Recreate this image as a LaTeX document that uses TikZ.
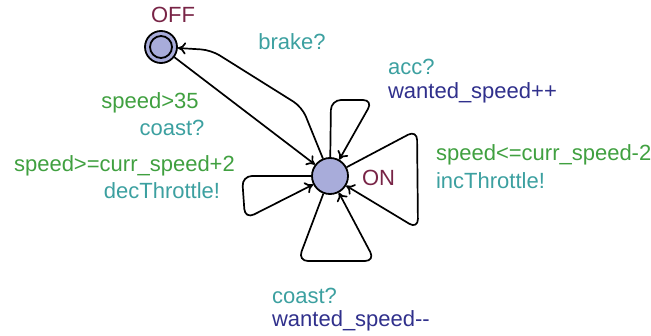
\documentclass[tikz,border=0pt]{standalone}
\usepackage{fontspec}
\setmainfont{Liberation Sans}
\usepackage{tikz}
\usetikzlibrary{shapes,arrows,arrows.meta,positioning}

\definecolor{guardgreen}{RGB}{64,160,64}
\definecolor{syncteal}{RGB}{60,160,160}
\definecolor{assignblue}{RGB}{48,48,140}
\definecolor{locred}{RGB}{120,36,70}
\definecolor{locfill}{RGB}{168,172,218}

\tikzset{
	location/.style={circle,draw=black,line width=0.9pt,fill=locfill,inner sep=0pt,minimum size=18pt},
	locname/.style={text=locred},
	guard/.style={text=guardgreen},
	sync/.style={text=syncteal},
	update/.style={text=assignblue},
	edge/.style={draw=black,line width=0.85pt,rounded corners=5pt},
	>={To[length=4pt,width=6pt]}
}

\begin{document}
\begin{tikzpicture}[x=0.5pt,y=-0.5pt,font=\fontsize{11}{13}\selectfont]
	\useasboundingbox (0,0) rectangle (651,336);

	% locations
	\node[location,minimum size=16pt] (off) at (161,47) {};
	\draw[line width=0.9pt] (off.center) circle[radius=5.5pt];
	\node[locname] (offname) at (173,15) {OFF};
	\node[location] (on) at (330,176) {};
	\node[locname,anchor=west] (onname) at (355,178) {ON};

	% bend points
	\coordinate (brakeA) at (302,107);
	\coordinate (brakeB) at (211,50);
	\coordinate (accA) at (331,100);
	\coordinate (accB) at (373,100);
	\coordinate (incA) at (417,130);
	\coordinate (incB) at (418,229);
	\coordinate (decA) at (242,176);
	\coordinate (decB) at (245,219);
	\coordinate (coastA) at (298,261);
	\coordinate (coastB) at (375,261);

	% edges
	\draw[edge,->] (on) -- (brakeA) -- (brakeB) -- (off);
	\draw[edge,->] (off) -- (on);
	\draw[edge,->] (on) -- (accA) -- (accB) -- (on);
	\draw[edge,->] (on) -- (incA) -- (incB) -- (on);
	\draw[edge,->] (on) -- (decA) -- (decB) -- (on);
	\draw[edge,->] (on) -- (coastA) -- (coastB) -- (on);

	% labels
	\node[sync] (brake) at (292,42) {brake?};
	\node[sync,anchor=west] (acc) at (381,67) {acc?};
	\node[update,anchor=west] (accupd) at (381,93) {wanted\_speed++};
	\node[guard] (off2on) at (150,103) {speed>35};
	\node[sync] (off2onsync) at (172,128) {coast?};
	\node[guard,anchor=west] (decguard) at (7,166) {speed>=curr\_speed+2};
	\node[sync] (decsync) at (162,191) {decThrottle!};
	\node[guard,anchor=west] (incguard) at (429,155) {speed<=curr\_speed-2};
	\node[sync,anchor=west] (incsync) at (429,181) {incThrottle!};
	\node[sync,anchor=west] (coastsync) at (265,296) {coast?};
	\node[update,anchor=west] (coastupd) at (265,321) {wanted\_speed{-}{-}};
\end{tikzpicture}
\end{document}
